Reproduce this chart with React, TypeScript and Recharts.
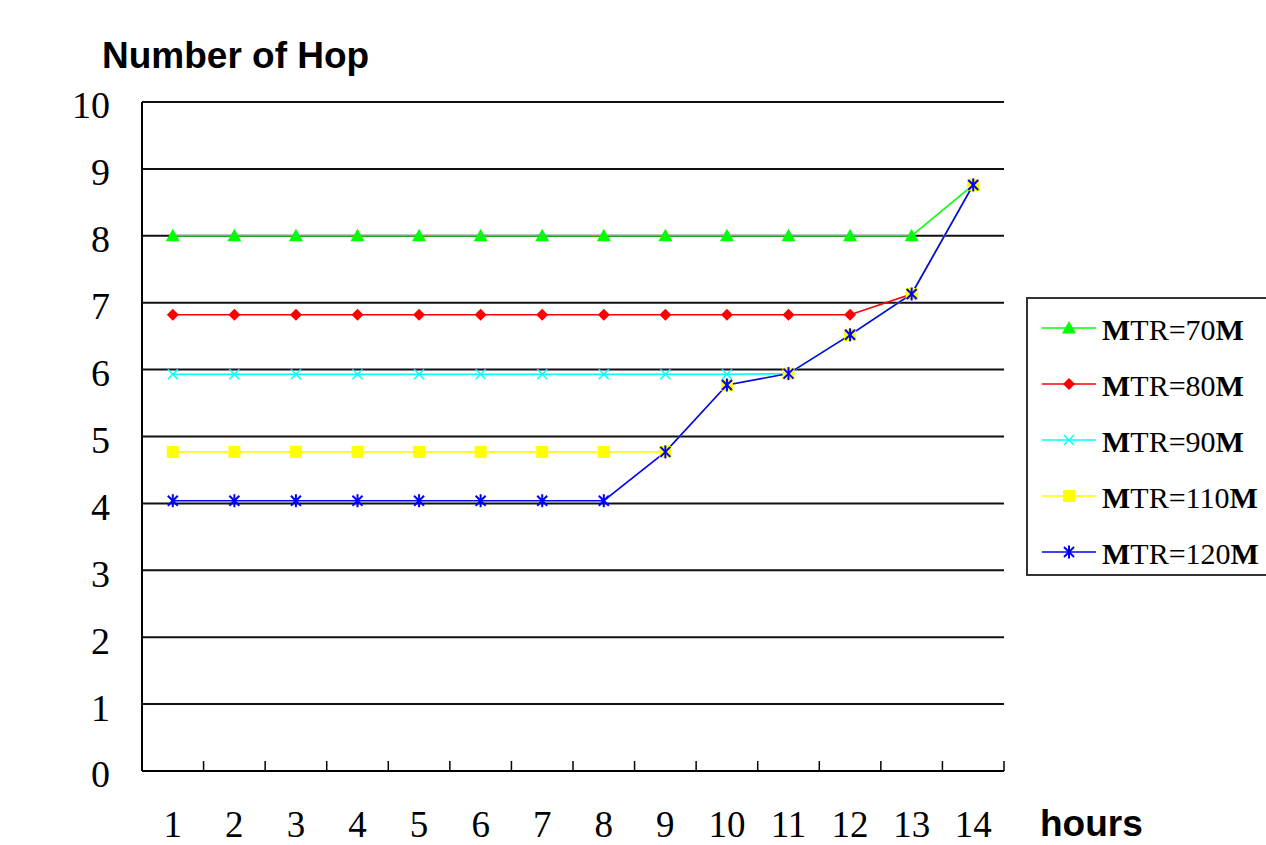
import React from 'react';
import { LineChart, Line, XAxis, YAxis, CartesianGrid } from 'recharts';

const hours = [1, 2, 3, 4, 5, 6, 7, 8, 9, 10, 11, 12, 13, 14];
const mtr70 = [8, 8, 8, 8, 8, 8, 8, 8, 8, 8, 8, 8, 8, 8.76];
const mtr80 = [6.82, 6.82, 6.82, 6.82, 6.82, 6.82, 6.82, 6.82, 6.82, 6.82, 6.82, 6.82, 7.13, 8.76];
const mtr90 = [5.93, 5.93, 5.93, 5.93, 5.93, 5.93, 5.93, 5.93, 5.93, 5.93, 5.94, 6.52, 7.13, 8.76];
const mtr110 = [4.77, 4.77, 4.77, 4.77, 4.77, 4.77, 4.77, 4.77, 4.77, 5.77, 5.94, 6.52, 7.13, 8.76];
const mtr120 = [4.04, 4.04, 4.04, 4.04, 4.04, 4.04, 4.04, 4.04, 4.77, 5.77, 5.94, 6.52, 7.13, 8.76];
const yTicks = [0, 1, 2, 3, 4, 5, 6, 7, 8, 9, 10];
const boundaryTicks = [1.5, 2.5, 3.5, 4.5, 5.5, 6.5, 7.5, 8.5, 9.5, 10.5, 11.5, 12.5, 13.5, 14.5];
const seriesNames = ['MTR=70M', 'MTR=80M', 'MTR=90M', 'MTR=110M', 'MTR=120M'];
const seriesKeys = ['m70', 'm80', 'm90', 'm110', 'm120'];
const seriesColors = ['#00ff00', '#ff0000', '#00ffff', '#ffff00', '#0000ff'];
const seriesShapes = ['triangle', 'diamond', 'cross', 'square', 'star'];

const data = hours.map((h, i) => ({
  hour: h,
  m70: mtr70[i],
  m80: mtr80[i],
  m90: mtr90[i],
  m110: mtr110[i],
  m120: mtr120[i],
}));

const allXTicks = [...hours, ...boundaryTicks].sort((a, b) => a - b);

function Marker({ cx, cy, kind, color }: { cx: number; cy: number; kind: string; color: string }) {
  if (cx == null || cy == null) return <g />;
  switch (kind) {
    case 'triangle':
      return <polygon points={`${cx},${cy - 7} ${cx - 7},${cy + 5.5} ${cx + 7},${cy + 5.5}`} fill={color} />;
    case 'diamond':
      return <polygon points={`${cx},${cy - 6} ${cx + 6},${cy} ${cx},${cy + 6} ${cx - 6},${cy}`} fill={color} />;
    case 'cross':
      return (
        <g stroke={color} strokeWidth={1.5}>
          <line x1={cx - 5} y1={cy - 5} x2={cx + 5} y2={cy + 5} />
          <line x1={cx - 5} y1={cy + 5} x2={cx + 5} y2={cy - 5} />
        </g>
      );
    case 'square':
      return <rect x={cx - 6} y={cy - 6} width={12} height={12} fill={color} />;
    default:
      return (
        <g stroke={color} strokeWidth={2}>
          <line x1={cx - 5} y1={cy - 5} x2={cx + 5} y2={cy + 5} />
          <line x1={cx - 5} y1={cy + 5} x2={cx + 5} y2={cy - 5} />
          <line x1={cx} y1={cy - 6.5} x2={cx} y2={cy + 6.5} />
        </g>
      );
  }
}

const XTick = (props: any) => {
  const { x, y, payload } = props;
  const v = payload.value;
  if (Number.isInteger(v)) {
    return (
      <text x={x} y={y + 66} textAnchor="middle" fontSize={37} fontFamily="'Liberation Serif', serif" fill="#000">
        {v}
      </text>
    );
  }
  return <line x1={x} x2={x} y1={y} y2={y - 10} stroke="#000" strokeWidth={1.5} />;
};

export default function App() {
  return (
    <div style={{ position: 'fixed', left: 0, top: 0, width: 1266, height: 845, background: '#fff', overflow: 'hidden' }}>
      <LineChart width={1266} height={845} data={data} margin={{ top: 102, right: 262, bottom: 0, left: 0 }}>
        <CartesianGrid vertical={false} stroke="#111" strokeWidth={2} />
        <XAxis
          dataKey="hour"
          type="number"
          domain={[0.5, 14.5]}
          ticks={allXTicks}
          interval={0}
          tickSize={0}
          tickMargin={0}
          tickLine={false}
          axisLine={{ stroke: '#000', strokeWidth: 2 }}
          tick={XTick}
          height={74}
        />
        <YAxis
          type="number"
          domain={[0, 10]}
          ticks={yTicks}
          interval={0}
          tickLine={false}
          tickSize={0}
          tickMargin={32}
          width={142}
          axisLine={{ stroke: '#000', strokeWidth: 2 }}
          tick={{ fontSize: 38, fontFamily: "'Liberation Serif', serif", fill: '#000', dy: 3 }}
        />
        {seriesKeys.map((k, i) => (
          <Line
            key={k}
            dataKey={k}
            type="linear"
            stroke={seriesColors[i]}
            strokeWidth={1.6}
            isAnimationActive={false}
            activeDot={false}
            dot={(p: any) => <Marker key={`${k}-${p.index}`} cx={p.cx} cy={p.cy} kind={seriesShapes[i]} color={seriesColors[i]} />}
          />
        ))}
      </LineChart>
      <svg width={1266} height={845} style={{ position: 'absolute', left: 0, top: 0, pointerEvents: 'none' }}>
        <text x={102} y={68} fontSize={37} fontWeight="bold" fontFamily="'Liberation Sans', Arial, sans-serif" fill="#000">
          Number of Hop
        </text>
        <text x={1040} y={836} fontSize={37} fontWeight="bold" fontFamily="'Liberation Sans', Arial, sans-serif" fill="#000">
          hours
        </text>
        <rect x={1027} y={298} width={260} height={277} fill="#fff" stroke="#333" strokeWidth={2} />
        {seriesNames.map((name, i) => {
          const cy = 328 + i * 56;
          return (
            <g key={name}>
              <line x1={1042} x2={1096} y1={cy} y2={cy} stroke={seriesColors[i]} strokeWidth={1.6} />
              <Marker cx={1069} cy={cy} kind={seriesShapes[i]} color={seriesColors[i]} />
              <text x={1102} y={cy + 12} fontSize={30} fontFamily="'Liberation Serif', serif" fill="#000">
                <tspan fontWeight="bold">M</tspan>
                {name.slice(1, -1)}
                <tspan fontWeight="bold">M</tspan>
              </text>
            </g>
          );
        })}
      </svg>
    </div>
  );
}
